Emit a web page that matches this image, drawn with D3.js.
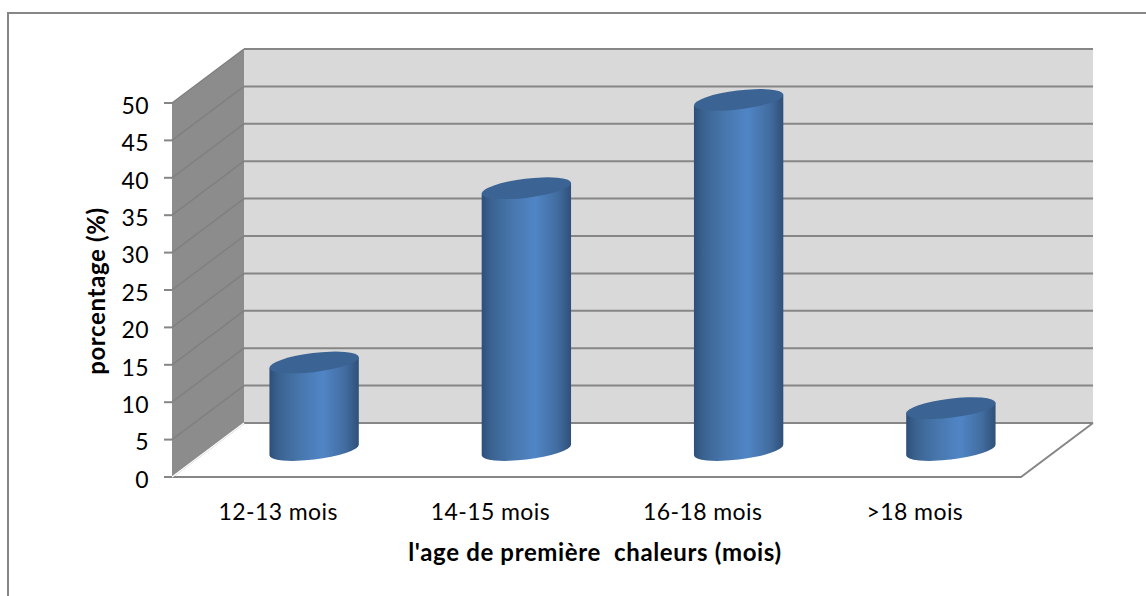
<!DOCTYPE html>
<html>
<head>
<meta charset="utf-8">
<script src="https://cdn.jsdelivr.net/npm/d3@7"></script>
<style>
    html, body { margin: 0; background: #fff; overflow: hidden; }
    svg { display: block; font-family: Lato, "Open Sans", sans-serif; fill: #000; }
</style>
</head>
<body>
<div id="chart"></div>
<script>
    const categories = ["12-13 mois", "14-15 mois", "16-18 mois", ">18 mois"];
    const values = [11.7, 35, 46.8, 5.6];
    const yTicks = [0, 5, 10, 15, 20, 25, 30, 35, 40, 45, 50];

    const svg = d3.select("#chart").append("svg")
        .attr("width", 1146)
        .attr("height", 596);

    const line = d3.line();

    // Outer frame: only top and left edges are visible in the crop
    svg.append("path")
        .attr("d", line([[8, 596], [8, 13], [1146, 13]]))
        .attr("fill", "none").attr("stroke", "#868686").attr("stroke-width", 2);

    // Scales on the front plane; the depth offset pushes things back to the wall
    const depth = { x: 72, y: -54 };
    const x = d3.scaleBand().domain(categories).range([172, 1021]);
    const y = d3.scaleLinear().domain([0, 50]).range([477, 103]);

    // Gradient across the cylinders
    const grad = svg.append("defs").append("linearGradient").attr("id", "cyl");
    [[0, "#2d4f7a"], [0.1, "#3a628f"], [0.35, "#4877ae"], [0.6, "#5085c6"], [0.85, "#426c9f"], [1, "#2f5079"]]
        .forEach(s => grad.append("stop").attr("offset", s[0]).attr("stop-color", s[1]));

    // Side wall
    svg.append("path")
        .attr("d", line([[172, y(50)], [172 + depth.x, y(50) + depth.y], [172 + depth.x, y(0) + depth.y], [172, y(0)]]) + "Z")
        .attr("fill", "#8c8c8c");

    // Back wall
    svg.append("rect")
        .attr("x", 172 + depth.x).attr("y", y(50) + depth.y)
        .attr("width", 849).attr("height", y(0) - y(50))
        .attr("fill", "#d9d9d9");

    // Gridlines, on side wall and back wall
    svg.append("g").selectAll("path").data(yTicks).join("path")
        .attr("d", d => line([[172, y(d)], [172 + depth.x, y(d) + depth.y]]))
        .attr("fill", "none").attr("stroke", "#808080").attr("stroke-width", 1.5);
    svg.append("g").selectAll("path").data(yTicks).join("path")
        .attr("d", d => line([[172 + depth.x, y(d) + depth.y], [1021 + depth.x, y(d) + depth.y]]))
        .attr("fill", "none").attr("stroke", "#868686").attr("stroke-width", 2);

    // Floor edges
    svg.append("path")
        .attr("d", line([[172, y(0)], [1021, y(0)], [1021 + depth.x, y(0) + depth.y]]))
        .attr("fill", "none").attr("stroke", "#868686").attr("stroke-width", 2);
    svg.append("path")
        .attr("d", line([[172, y(0)], [172 + depth.x, y(0) + depth.y]]))
        .attr("fill", "none").attr("stroke", "#fff").attr("stroke-width", 1.5);

    // Cylinders
    const rx = 45, ry = 9.5, tilt = -7;
    const t = tilt * Math.PI / 180;
    const ext = Math.sqrt(rx * rx * Math.cos(t) ** 2 + ry * ry * Math.sin(t) ** 2);
    const lean = (rx * rx - ry * ry) * Math.sin(-t) * Math.cos(t) / ext;

    const bars = svg.append("g").selectAll("g")
        .data(categories.map((c, i) => ({ c: c, v: values[i] })))
        .join("g")
        .attr("transform", d => `translate(${x(d.c) + x.bandwidth() / 2 + depth.x / 2},${depth.y / 2})`);

    bars.append("path")
        .attr("d", d => `M${-ext},${y(d.v) + lean}L${-ext},${y(0) + lean}`
            + `A${rx},${ry} ${tilt} 0 0 ${ext},${y(0) - lean}`
            + `L${ext},${y(d.v) - lean}Z`)
        .attr("fill", "url(#cyl)");

    bars.append("ellipse")
        .attr("rx", rx).attr("ry", ry)
        .attr("transform", d => `translate(0,${y(d.v)}) rotate(${tilt})`)
        .attr("fill", "#3b6494");

    // Axes
    const yAxis = svg.append("g")
        .attr("transform", "translate(172,3)")
        .call(d3.axisLeft(y).tickValues(yTicks).tickSize(0).tickPadding(23));
    yAxis.select(".domain").remove();
    yAxis.selectAll(".tick line").remove();
    yAxis.selectAll("text").attr("font-size", 23).attr("fill", "#000").attr("font-family", "Lato").attr("letter-spacing", 0.4);

    // Tick marks sit on the unshifted scale
    svg.append("g").selectAll("line").data(yTicks).join("line")
        .attr("x1", 164).attr("x2", 172)
        .attr("y1", d => y(d)).attr("y2", d => y(d))
        .attr("stroke", "#868686").attr("stroke-width", 2);

    const xAxis = svg.append("g")
        .attr("transform", "translate(0,477)")
        .call(d3.axisBottom(x).tickSize(0).tickPadding(27));
    xAxis.select(".domain").remove();
    xAxis.selectAll("text").attr("font-size", 23).attr("fill", "#000").attr("font-family", "Lato").attr("letter-spacing", 0.4);

    // Axis titles
    svg.append("text")
        .attr("x", 595).attr("y", 561)
        .attr("text-anchor", "middle")
        .attr("font-size", 24).attr("font-weight", "bold").attr("letter-spacing", 0.65)
        .style("white-space", "pre")
        .text("l'age de première  chaleurs (mois)");

    svg.append("text")
        .attr("transform", "translate(105,291) rotate(-90)")
        .attr("text-anchor", "middle")
        .attr("font-size", 24).attr("font-weight", "bold").attr("letter-spacing", 0.65)
        .text("porcentage (%)");
</script>
</body>
</html>
